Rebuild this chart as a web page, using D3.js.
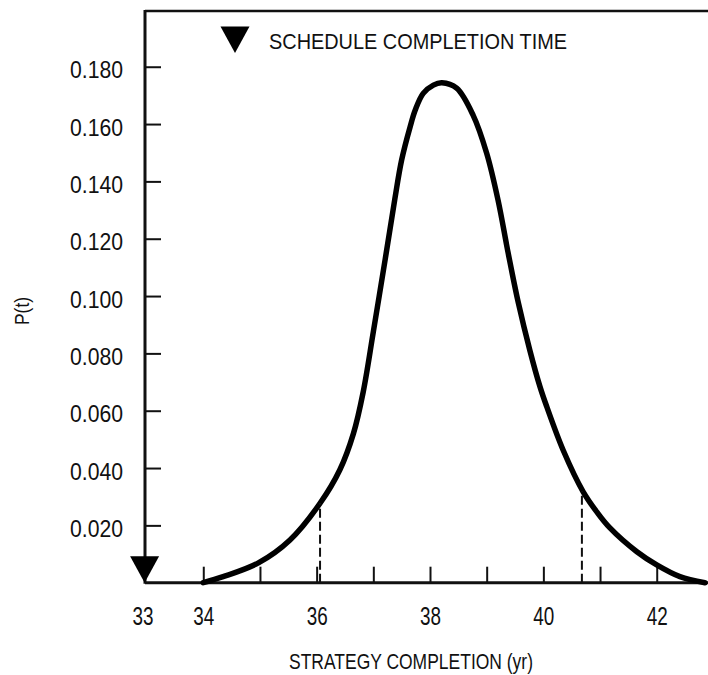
<!DOCTYPE html>
<html>
<head>
<meta charset="utf-8">
<script src="https://cdn.jsdelivr.net/npm/d3@7"></script>
<style>
  html, body { margin: 0; padding: 0; background: #fff; }
  svg text { font-family: "Liberation Sans", Arial, sans-serif; fill: #111; }
</style>
</head>
<body>
<svg id="chart" width="708" height="675"></svg>
<script>
// Completion-time probability density, P(t) against year
const years = [34.0, 34.35, 34.98, 35.53, 36.06, 36.41, 36.65, 36.82, 37.0, 37.21, 37.38, 37.5, 37.65, 37.74, 37.88, 38.06, 38.21, 38.47, 38.76, 39.0, 39.2, 39.38, 39.56, 39.76, 39.94, 40.06, 40.35, 40.7, 40.95, 41.17, 41.65, 42.0, 42.41, 42.85];
const density = [0.0, 0.0021, 0.0070, 0.0149, 0.0277, 0.0394, 0.0521, 0.0664, 0.0875, 0.1129, 0.1339, 0.1475, 0.1591, 0.1649, 0.1707, 0.1736, 0.1744, 0.1725, 0.1631, 0.1498, 0.1335, 0.1149, 0.0975, 0.0812, 0.0684, 0.0614, 0.0462, 0.0318, 0.0245, 0.0192, 0.0108, 0.0062, 0.0021, 0.0];

// Dashed markers under the curve
const markerYears = [36.06, 40.68];
const markerDensity = [0.0278, 0.0320];

// Axis ticks and labels
const xTickYears = [34, 35, 36, 37, 38, 39, 40, 41, 42];
const xLabelYears = [33, 34, 36, 38, 40, 42];
const yTickValues = [0.02, 0.04, 0.06, 0.08, 0.10, 0.12, 0.14, 0.16, 0.18];
const scheduleYear = 33;

const legendText = "SCHEDULE COMPLETION TIME";
const xTitle = "STRATEGY COMPLETION (yr)";
const yTitle = "P(t)";

const W = 708, H = 675;
const svg = d3.select("#chart");
svg.append("rect").attr("width", W).attr("height", H).attr("fill", "#fff");

const x = d3.scaleLinear().domain([33, 43]).range([146.6, 713.4]);
const y = d3.scaleLinear().domain([0, 0.2]).range([582.7, 9.4]);

const axisX = 145;
const baseY = y(0);
const topY = 11;

// frame: left axis, top rule, baseline
const frame = svg.append("g").attr("stroke", "#111").attr("fill", "none");
frame.append("line").attr("x1", axisX).attr("x2", axisX).attr("y1", topY - 1).attr("y2", baseY + 1).attr("stroke-width", 3);
frame.append("line").attr("x1", axisX).attr("x2", W).attr("y1", topY).attr("y2", topY).attr("stroke-width", 2.5);
frame.append("line").attr("x1", axisX).attr("x2", W).attr("y1", baseY).attr("y2", baseY).attr("stroke-width", 3);

// x tick marks (pointing up into the plot)
const xTicks = svg.append("g")
  .attr("transform", `translate(0,${baseY})`)
  .call(d3.axisBottom(x).tickValues(xTickYears).tickSize(-16).tickFormat(""));
xTicks.select(".domain").remove();
xTicks.selectAll(".tick line").attr("stroke", "#111").attr("stroke-width", 2);

// x labels, set in a narrow face
const xLabels = svg.append("g")
  .attr("transform", `translate(0,${baseY})`)
  .call(d3.axisBottom(x).tickValues(xLabelYears).tickSize(0).tickPadding(0).tickFormat(d3.format("d")));
xLabels.select(".domain").remove();
xLabels.selectAll(".tick text")
  .attr("y", 42).attr("dy", null)
  .attr("font-size", 25).attr("fill", "#111")
  .attr("textLength", 21).attr("lengthAdjust", "spacingAndGlyphs")
  .attr("transform", d => d === 33 ? "translate(-4,0)" : null);

// y tick marks (pointing right into the plot)
const yAxis = svg.append("g")
  .attr("transform", `translate(${axisX},0)`)
  .call(d3.axisLeft(y).tickValues(yTickValues).tickSize(-16).tickPadding(22).tickFormat(d3.format(".3f")));
yAxis.select(".domain").remove();
yAxis.selectAll(".tick line").attr("stroke", "#111").attr("stroke-width", 2);
yAxis.selectAll(".tick text")
  .attr("font-size", 23).attr("fill", "#111")
  .attr("dy", null).attr("y", 11)
  .attr("textLength", 53).attr("lengthAdjust", "spacingAndGlyphs");

// density curve
const pts = years.map((t, i) => [t, density[i]]);
const line = d3.line().x(d => x(d[0])).y(d => y(d[1])).curve(d3.curveCatmullRom.alpha(0.5));
svg.append("path")
  .datum(pts)
  .attr("d", line)
  .attr("fill", "none")
  .attr("stroke", "#000")
  .attr("stroke-width", 5.5)
  .attr("stroke-linejoin", "round")
  .attr("stroke-linecap", "round");

// dashed markers
svg.append("g").selectAll("line")
  .data(markerYears.map((t, i) => [t, markerDensity[i]]))
  .join("line")
  .attr("x1", d => x(d[0])).attr("x2", d => x(d[0]))
  .attr("y1", baseY).attr("y2", d => y(d[1]))
  .attr("stroke", "#111").attr("stroke-width", 2)
  .attr("stroke-dasharray", "9,4");

// down-pointing triangle symbol
const tri = (cx, tipY) => `M${cx - 14.5},${tipY - 26.5}L${cx + 14.5},${tipY - 26.5}L${cx},${tipY}Z`;

// schedule completion marker on the axis
svg.append("path").attr("d", tri(x(scheduleYear) - 2, baseY)).attr("fill", "#000");

// legend
svg.append("path").attr("d", tri(235, 53)).attr("fill", "#000");
svg.append("text")
  .attr("x", 269).attr("y", 48.5)
  .attr("font-size", 22)
  .attr("textLength", 298).attr("lengthAdjust", "spacingAndGlyphs")
  .text(legendText);

// axis titles
svg.append("text")
  .attr("x", 411).attr("y", 669)
  .attr("text-anchor", "middle")
  .attr("font-size", 22)
  .attr("textLength", 244).attr("lengthAdjust", "spacingAndGlyphs")
  .text(xTitle);

svg.append("text")
  .attr("transform", "translate(29,311) rotate(-90)")
  .attr("text-anchor", "middle")
  .attr("font-size", 20)
  .attr("textLength", 28).attr("lengthAdjust", "spacingAndGlyphs")
  .text(yTitle);
</script>
</body>
</html>
